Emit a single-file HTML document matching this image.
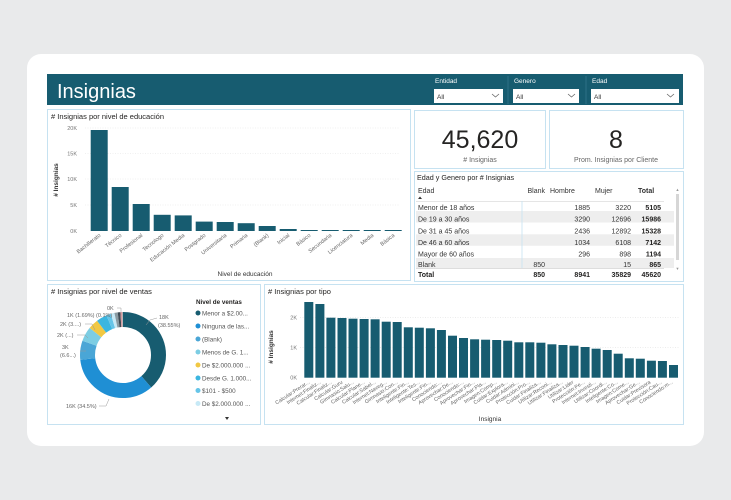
<!DOCTYPE html>
<html><head><meta charset="utf-8"><style>
html,body{margin:0;padding:0;background:#e9eaeb;}
svg{display:block;font-family:"Liberation Sans","DejaVu Sans",sans-serif;}
</style></head><body>
<svg width="731" height="500" viewBox="0 0 731 500" xmlns="http://www.w3.org/2000/svg">
<rect width="731" height="500" fill="#e9eaeb"/>
<rect x="27" y="54" width="677" height="392" rx="14" fill="#ffffff"/>
<!-- header -->
<rect x="47" y="74" width="636" height="31" fill="#175c70"/>
<text x="57" y="98" font-size="20" fill="#ffffff">Insignias</text>
<line x1="508" y1="76" x2="508" y2="104" stroke="#2d7186"/>
<line x1="586" y1="76" x2="586" y2="104" stroke="#2d7186"/>
<text x="435" y="83" font-size="6.5" fill="#ffffff">Entidad</text>
<text x="514" y="83" font-size="6.5" fill="#ffffff">Genero</text>
<text x="592" y="83" font-size="6.5" fill="#ffffff">Edad</text>
<rect x="434" y="89" width="69" height="14" fill="#fff"/>
<rect x="513" y="89" width="66" height="14" fill="#fff"/>
<rect x="591" y="89" width="88" height="14" fill="#fff"/>
<text x="437" y="99" font-size="6.5" fill="#333">All</text>
<text x="516" y="99" font-size="6.5" fill="#333">All</text>
<text x="594" y="99" font-size="6.5" fill="#333">All</text>
<polyline points="492,94 495.5,97 499,94" fill="none" stroke="#666" stroke-width="0.8"/>
<polyline points="568,94 571.5,97 575,94" fill="none" stroke="#666" stroke-width="0.8"/>
<polyline points="667,94 670.5,97 674,94" fill="none" stroke="#666" stroke-width="0.8"/>

<!-- panels -->
<g fill="none" stroke="#c6e2f1" stroke-width="1">
<rect x="47.5" y="109.5" width="363" height="171"/>
<rect x="414.5" y="110.5" width="131" height="58"/>
<rect x="549.5" y="110.5" width="134" height="58"/>
<rect x="414.5" y="171.5" width="269" height="110"/>
<rect x="47.5" y="284.5" width="213" height="140"/>
<rect x="264.5" y="284.5" width="419" height="140"/>
</g>

<!-- edu chart -->
<text x="51" y="119" font-size="7.5" fill="#252423">&#35; Insignias por nivel de educación</text>
<g stroke="#e1e1e1" stroke-width="0.6" stroke-dasharray="1,1.5">
<line x1="85" y1="128" x2="400" y2="128"/><line x1="85" y1="153.5" x2="400" y2="153.5"/>
<line x1="85" y1="179" x2="400" y2="179"/><line x1="85" y1="205" x2="400" y2="205"/>
</g>
<g font-size="5.5" fill="#777" text-anchor="end">
<text x="77" y="130">20K</text><text x="77" y="155.5">15K</text><text x="77" y="181">10K</text><text x="77" y="207">5K</text><text x="77" y="233">0K</text>
</g>
<text transform="translate(58,180) rotate(-90)" font-size="6.5" fill="#333" text-anchor="middle" font-weight="bold">&#35; Insignias</text>
<g fill="#175c70">
<rect x="90.7" y="130" width="17" height="101"/>
<rect x="111.7" y="187" width="17" height="44"/>
<rect x="132.7" y="204" width="17" height="27"/>
<rect x="153.7" y="214.8" width="17" height="16.2"/>
<rect x="174.7" y="215.4" width="17" height="15.6"/>
<rect x="195.7" y="221.6" width="17" height="9.4"/>
<rect x="216.7" y="222" width="17" height="9"/>
<rect x="237.7" y="223.2" width="17" height="7.8"/>
<rect x="258.7" y="226" width="17" height="5"/>
<rect x="279.7" y="229" width="17" height="2"/>
<rect x="300.7" y="230" width="17" height="1"/>
<rect x="321.7" y="230" width="17" height="1"/>
<rect x="342.7" y="230" width="17" height="1"/>
<rect x="363.7" y="230" width="17" height="1"/>
<rect x="384.7" y="230" width="17" height="1"/>
</g>
<g font-size="5.5" fill="#666" text-anchor="end">
<text transform="translate(101,236) rotate(-38)">Bachillerato</text>
<text transform="translate(122,236) rotate(-38)">Técnico</text>
<text transform="translate(143,236) rotate(-38)">Profesional</text>
<text transform="translate(164,236) rotate(-38)">Tecnologo</text>
<text transform="translate(185,236) rotate(-38)">Educación Media</text>
<text transform="translate(206,236) rotate(-38)">Postgrado</text>
<text transform="translate(227,236) rotate(-38)">Universitaria</text>
<text transform="translate(248,236) rotate(-38)">Primaria</text>
<text transform="translate(269,236) rotate(-38)">(Blank)</text>
<text transform="translate(290,236) rotate(-38)">Inicial</text>
<text transform="translate(311,236) rotate(-38)">Básico</text>
<text transform="translate(332,236) rotate(-38)">Secundaria</text>
<text transform="translate(353,236) rotate(-38)">Licenciatura</text>
<text transform="translate(374,236) rotate(-38)">Media</text>
<text transform="translate(395,236) rotate(-38)">Básica</text>
</g>
<text x="245" y="276" font-size="6.5" fill="#333" text-anchor="middle">Nivel de educación</text>

<!-- KPIs -->
<text x="480" y="148" font-size="25" fill="#252423" text-anchor="middle">45,620</text>
<text x="480" y="162" font-size="7" fill="#666" text-anchor="middle">&#35; Insignias</text>
<text x="616" y="148" font-size="25" fill="#252423" text-anchor="middle">8</text>
<text x="616" y="162" font-size="7" fill="#666" text-anchor="middle">Prom. Insignias por Cliente</text>

<!-- table -->
<text x="417" y="180" font-size="7.2" fill="#252423">Edad y Genero por &#35; Insignias</text>
<rect x="416" y="211" width="258" height="11.5" fill="#eeeeee"/>
<rect x="416" y="234.3" width="258" height="11.5" fill="#eeeeee"/>
<rect x="416" y="258" width="258" height="10" fill="#eeeeee"/>
<line x1="416" y1="201.5" x2="664" y2="201.5" stroke="#ccc" stroke-width="0.6"/>
<line x1="522" y1="201" x2="522" y2="268" stroke="#c6e2f1" stroke-width="0.8"/>
<g font-size="7" fill="#333">
<text x="418" y="193">Edad</text>
<text x="545" y="193" text-anchor="end">Blank</text>
<text x="550" y="193">Hombre</text>
<text x="595" y="193">Mujer</text>
<text x="638" y="193" font-weight="bold">Total</text>
<polygon points="418,199 420,196.5 422,199" fill="#333"/>
<text x="418" y="210">Menor de 18 años</text>
<text x="418" y="221.6">De 19 a 30 años</text>
<text x="418" y="233.7">De 31 a 45 años</text>
<text x="418" y="245">De 46 a 60 años</text>
<text x="418" y="256.7">Mayor de 60 años</text>
<text x="418" y="267">Blank</text>
</g>
<g font-size="7" fill="#333" text-anchor="end">
<text x="590" y="210">1885</text><text x="631" y="210">3220</text>
<text x="590" y="221.6">3290</text><text x="631" y="221.6">12696</text>
<text x="590" y="233.7">2436</text><text x="631" y="233.7">12892</text>
<text x="590" y="245">1034</text><text x="631" y="245">6108</text>
<text x="590" y="256.7">296</text><text x="631" y="256.7">898</text>
<text x="545" y="267">850</text><text x="631" y="267">15</text>
</g>
<g font-size="7" fill="#252423" text-anchor="end" font-weight="bold">
<text x="661" y="210">5105</text><text x="661" y="221.6">15986</text><text x="661" y="233.7">15328</text>
<text x="661" y="245">7142</text><text x="661" y="256.7">1194</text><text x="661" y="267">865</text>
</g>
<rect x="415" y="268" width="262" height="13" fill="#fff"/>
<line x1="416" y1="268.5" x2="664" y2="268.5" stroke="#bbb" stroke-width="0.6"/>
<g font-size="7" fill="#252423" font-weight="bold">
<text x="418" y="277">Total</text>
<g text-anchor="end"><text x="545" y="277">850</text><text x="590" y="277">8941</text><text x="631" y="277">35829</text><text x="661" y="277">45620</text></g>
</g>
<rect x="676" y="194" width="3" height="66" fill="#d6d6d6"/>
<text x="677.5" y="191" font-size="4" fill="#999" text-anchor="middle">▲</text>
<text x="677.5" y="270" font-size="4" fill="#999" text-anchor="middle">▼</text>

<!-- donut -->
<text x="51" y="294" font-size="7.5" fill="#252423">&#35; Insignias por nivel de ventas</text>
<g transform="translate(123,355) rotate(-90)" fill="none" stroke-width="15">
<circle r="35.5" stroke="#175c70" stroke-dasharray="85.99 223.05" stroke-dashoffset="0"/>
<circle r="35.5" stroke="#1f8fd4" stroke-dasharray="76.95 223.05" stroke-dashoffset="-85.99"/>
<circle r="35.5" stroke="#4aa6d6" stroke-dasharray="16.06 223.05" stroke-dashoffset="-162.94"/>
<circle r="35.5" stroke="#7ccde3" stroke-dasharray="12.27 223.05" stroke-dashoffset="-179"/>
<circle r="35.5" stroke="#f1c843" stroke-dasharray="8.48 223.05" stroke-dashoffset="-191.27"/>
<circle r="35.5" stroke="#3cb6e0" stroke-dasharray="8.92 223.05" stroke-dashoffset="-199.75"/>
<circle r="35.5" stroke="#66c5e8" stroke-dasharray="3.79 223.05" stroke-dashoffset="-208.67"/>
<circle r="35.5" stroke="#c7e9f6" stroke-dasharray="3.12 223.05" stroke-dashoffset="-212.46"/>
<circle r="35.5" stroke="#8a9ba3" stroke-dasharray="2.68 223.05" stroke-dashoffset="-215.58"/>
<circle r="35.5" stroke="#3e4c55" stroke-dasharray="2.23 223.05" stroke-dashoffset="-218.26"/>
<circle r="35.5" stroke="#d59aa0" stroke-dasharray="1.34 223.05" stroke-dashoffset="-220.49"/>
<circle r="35.5" stroke="#b0b0b0" stroke-dasharray="1.23 223.05" stroke-dashoffset="-221.83"/>
</g>
<g font-size="5.5" fill="#666">
<text x="159" y="319">18K</text><text x="158" y="327">(38.55%)</text>
<text x="66" y="408">16K (34.5%)</text>
<text x="62" y="349">3K</text><text x="60" y="357">(6.6...)</text>
<text x="57" y="337">2K (...)</text>
<text x="60" y="326">2K (3....)</text>
<text x="67" y="317">1K (1.69%) (0.1%)</text>
<text x="107" y="310">0K</text>
</g>
<g stroke="#999" stroke-width="0.5" fill="none">
<polyline points="157,318 150,320 146,325"/>
<polyline points="99,406 106,406 109,399"/>
<polyline points="80,351 86,351"/>
<polyline points="77,335 85,335 88,338"/>
<polyline points="85,324 92,324 95,330"/>
<polyline points="117,308 121,308 121,312"/>
</g>
<text x="196" y="304" font-size="6.3" fill="#252423" font-weight="bold">Nivel de ventas</text>
<g font-size="6.3" fill="#555">
<circle cx="198" cy="313" r="2.5" fill="#175c70"/><text x="202" y="315.3">Menor a $2.00...</text>
<circle cx="198" cy="326" r="2.5" fill="#1f8fd4"/><text x="202" y="328.3">Ninguna de las...</text>
<circle cx="198" cy="339" r="2.5" fill="#4aa6d6"/><text x="202" y="341.3">(Blank)</text>
<circle cx="198" cy="352" r="2.5" fill="#7ccde3"/><text x="202" y="354.3">Menos de G. 1...</text>
<circle cx="198" cy="365" r="2.5" fill="#f1c843"/><text x="202" y="367.3">De $2.000.000 ...</text>
<circle cx="198" cy="378" r="2.5" fill="#3cb6e0"/><text x="202" y="380.3">Desde G. 1.000...</text>
<circle cx="198" cy="390.5" r="2.5" fill="#66c5e8"/><text x="202" y="392.8">$101 - $500</text>
<circle cx="198" cy="403.5" r="2.5" fill="#c7e9f6"/><text x="202" y="405.8">De $2.000.000 ...</text>
</g>
<polygon points="225,417 229,417 227,420" fill="#333"/>

<!-- tipo chart -->
<text x="268" y="294" font-size="7.5" fill="#252423">&#35; Insignias por tipo</text>
<g stroke="#e1e1e1" stroke-width="0.6" stroke-dasharray="1,1.5">
<line x1="300" y1="317.7" x2="680" y2="317.7"/><line x1="300" y1="347.7" x2="680" y2="347.7"/>
</g>
<g font-size="5.5" fill="#777" text-anchor="end">
<text x="297" y="319.7">2K</text><text x="297" y="349.7">1K</text><text x="297" y="379.7">0K</text>
</g>
<text transform="translate(273,347) rotate(-90)" font-size="6.5" fill="#333" text-anchor="middle" font-weight="bold">&#35; Insignias</text>
<g fill="#175c70">
<rect x="304.3" y="302" width="9" height="75.7"/>
<rect x="315.4" y="304" width="9" height="73.7"/>
<rect x="326.4" y="317.7" width="9" height="60"/>
<rect x="337.5" y="318" width="9" height="59.7"/>
<rect x="348.5" y="318.7" width="9" height="59"/>
<rect x="359.6" y="319" width="9" height="58.7"/>
<rect x="370.6" y="319.3" width="9" height="58.4"/>
<rect x="381.7" y="321.7" width="9" height="56"/>
<rect x="392.7" y="322" width="9" height="55.7"/>
<rect x="403.8" y="327.3" width="9" height="50.4"/>
<rect x="414.8" y="327.7" width="9" height="50"/>
<rect x="425.9" y="328.3" width="9" height="49.4"/>
<rect x="436.9" y="330" width="9" height="47.7"/>
<rect x="448" y="335.7" width="9" height="42"/>
<rect x="459" y="338" width="9" height="39.7"/>
<rect x="470.1" y="339.3" width="9" height="38.4"/>
<rect x="481.1" y="339.7" width="9" height="38"/>
<rect x="492.2" y="340" width="9" height="37.7"/>
<rect x="503.2" y="340.7" width="9" height="37"/>
<rect x="514.3" y="342.3" width="9" height="35.4"/>
<rect x="525.3" y="342.3" width="9" height="35.4"/>
<rect x="536.4" y="342.7" width="9" height="35"/>
<rect x="547.4" y="344.3" width="9" height="33.4"/>
<rect x="558.5" y="345" width="9" height="32.7"/>
<rect x="569.5" y="345.7" width="9" height="32"/>
<rect x="580.6" y="347" width="9" height="30.7"/>
<rect x="591.6" y="348.7" width="9" height="29"/>
<rect x="602.7" y="350" width="9" height="27.7"/>
<rect x="613.7" y="353.7" width="9" height="24"/>
<rect x="624.8" y="358.3" width="9" height="19.4"/>
<rect x="635.8" y="358.7" width="9" height="19"/>
<rect x="646.9" y="360.7" width="9" height="17"/>
<rect x="657.9" y="361" width="9" height="16.7"/>
<rect x="669" y="365" width="9" height="12.7"/>
</g>
<g font-size="5.3" fill="#666" text-anchor="end">
<text transform="translate(310,383) rotate(-33)">Calcular:Prerar...</text>
<text transform="translate(321,383) rotate(-33)">Internet:Finaliz...</text>
<text transform="translate(332,383) rotate(-33)">Calcular:Finaliz...</text>
<text transform="translate(343,383) rotate(-33)">Calcular:Guru</text>
<text transform="translate(354,383) rotate(-33)">Gimnasio:Salu...</text>
<text transform="translate(365,383) rotate(-33)">Calcular:Plane...</text>
<text transform="translate(376,383) rotate(-33)">Calcular:Sabel...</text>
<text transform="translate(387,383) rotate(-33)">Internet:Naveg...</text>
<text transform="translate(398,383) rotate(-33)">Gimnasio:Con...</text>
<text transform="translate(409,383) rotate(-33)">Inteligente:Fin...</text>
<text transform="translate(420,383) rotate(-33)">Inteligente:Tes...</text>
<text transform="translate(431,383) rotate(-33)">Inteligente:Fin...</text>
<text transform="translate(442,383) rotate(-33)">Conociendo:...</text>
<text transform="translate(453,383) rotate(-33)">Aprovechar:De...</text>
<text transform="translate(464,383) rotate(-33)">Conociendo:...</text>
<text transform="translate(475,383) rotate(-33)">Aprovechar:Fin...</text>
<text transform="translate(486,383) rotate(-33)">Aprovechar:Pla...</text>
<text transform="translate(497,383) rotate(-33)">Imagen:Comp...</text>
<text transform="translate(508,383) rotate(-33)">Cuidar:Explora...</text>
<text transform="translate(519,383) rotate(-33)">Cuidar:Admini...</text>
<text transform="translate(530,383) rotate(-33)">Protección:Pro...</text>
<text transform="translate(541,383) rotate(-33)">Cuidar:Finaliza...</text>
<text transform="translate(552,383) rotate(-33)">Utilizar:Reconi...</text>
<text transform="translate(563,383) rotate(-33)">Utilizar:Finaliza...</text>
<text transform="translate(574,383) rotate(-33)">Utilizar:Lider</text>
<text transform="translate(585,383) rotate(-33)">Protección:Pe...</text>
<text transform="translate(596,383) rotate(-33)">Internet:Investi...</text>
<text transform="translate(607,383) rotate(-33)">Utilizar:Coordi...</text>
<text transform="translate(618,383) rotate(-33)">Inteligente:Co...</text>
<text transform="translate(629,383) rotate(-33)">Imagen:Come...</text>
<text transform="translate(640,383) rotate(-33)">Aprovechar:Ge...</text>
<text transform="translate(651,383) rotate(-33)">Cuidar:Previsora</text>
<text transform="translate(662,383) rotate(-33)">Protección:Cau...</text>
<text transform="translate(673,383) rotate(-33)">Conociendo:m...</text>
</g>
<text x="490" y="421" font-size="6.5" fill="#333" text-anchor="middle">Insignia</text>
</svg>
</body></html>
